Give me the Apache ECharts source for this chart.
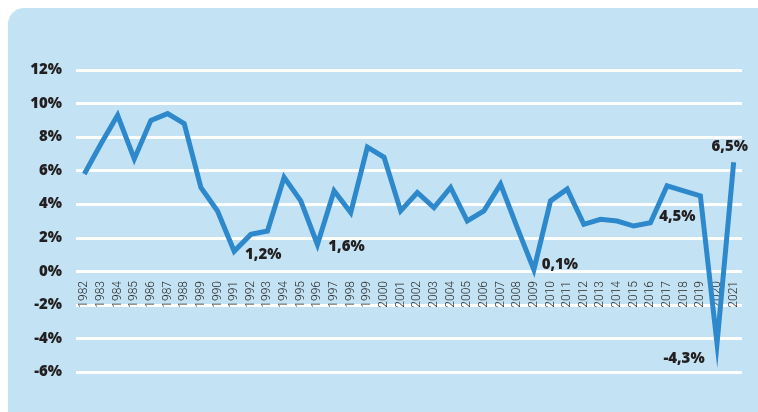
<!DOCTYPE html>
<html>
<head>
<meta charset="utf-8">
<script src="https://cdn.jsdelivr.net/npm/echarts@6/dist/echarts.min.js"></script>
<style>
html,body{margin:0;padding:0;background:#ffffff;}
#c{width:758px;height:412px;}
</style>
</head>
<body>
<div id="c"></div>
<script>
var years = ['1982','1983','1984','1985','1986','1987','1988','1989','1990','1991','1992','1993','1994','1995','1996','1997','1998','1999','2000','2001','2002','2003','2004','2005','2006','2007','2008','2009','2010','2011','2012','2013','2014','2015','2016','2017','2018','2019','2020','2021'];
var growth = [5.8,7.6,9.3,6.7,9.0,9.4,8.8,5.0,3.6,1.2,2.2,2.4,5.6,4.2,1.6,4.8,3.5,7.4,6.8,3.6,4.7,3.8,5.0,3.0,3.6,5.2,2.6,0.1,4.2,4.9,2.8,3.1,3.0,2.7,2.9,5.1,4.8,4.5,-4.3,6.5];
var labelledYears = ['1991','1996','2009','2019','2020','2021'];
var labelOffsets = {
  '1991': [29, 4],
  '1996': [29, 2],
  '2009': [26, -5],
  '2019': [-23, 21],
  '2020': [-33, 15],
  '2021': [-4, -16]
};

function fmt(v){ return String(v.toFixed(1)).replace('.', ',') + '%'; }

var seriesData = growth.map(function(v, i){
  var y = years[i];
  if (labelledYears.indexOf(y) >= 0) {
    return {
      value: v,
      label: {
        show: true,
        position: 'inside',
        offset: labelOffsets[y],
        formatter: fmt(v),
        fontFamily: 'Open Sans',
        fontWeight: 800,
        fontSize: 15,
        color: '#231f20'
      }
    };
  }
  return v;
});

var chart = echarts.init(document.getElementById('c'));
chart.setOption({
  animation: false,
  backgroundColor: '#ffffff',
  graphic: [{
    type: 'rect',
    z: -10,
    silent: true,
    shape: {x: 8, y: 8, width: 780, height: 440, r: 16},
    style: {fill: '#c3e3f4'}
  }],
  grid: {left: 76, right: 16, top: 70, bottom: 40, containLabel: false},
  xAxis: {
    type: 'category',
    data: years,
    boundaryGap: true,
    offset: -101,
    axisLine: {show: false, onZero: false},
    axisTick: {show: false},
    axisLabel: {
      interval: 0,
      rotate: 90,
      margin: 10,
      fontFamily: 'Roboto',
      fontWeight: 300,
      fontSize: 12,
      color: '#2a2a2a'
    },
    splitLine: {show: false}
  },
  yAxis: {
    type: 'value',
    min: -6,
    max: 12,
    interval: 2,
    axisLine: {show: false},
    axisTick: {show: false},
    axisLabel: {
      formatter: '{value}%',
      margin: 14,
      fontFamily: 'Open Sans',
      fontWeight: 800,
      fontSize: 15,
      color: '#231f20'
    },
    splitLine: {show: true, lineStyle: {color: '#ffffff', width: 3}}
  },
  series: [{
    type: 'line',
    data: seriesData,
    symbol: 'circle',
    symbolSize: 1,
    showSymbol: true,
    itemStyle: {color: 'rgba(0,0,0,0)'},
    lineStyle: {color: '#2e88cc', width: 5, join: 'miter', miterLimit: 20, cap: 'butt'},
    label: {show: false},
    z: 5
  }]
});
</script>
</body>
</html>
